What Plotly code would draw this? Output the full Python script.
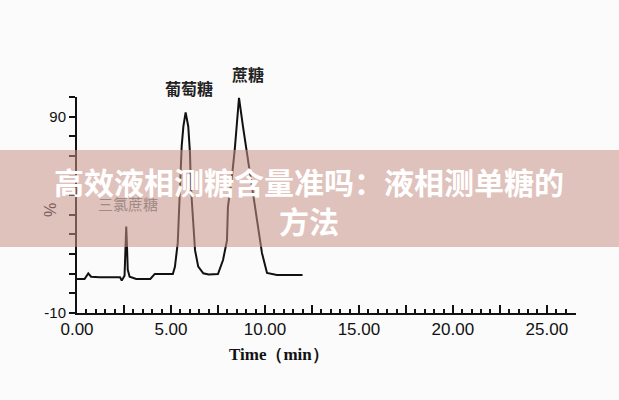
import plotly.graph_objects as go

# ---- data ----
time_min = [0, 0.4, 0.6, 0.75, 1.2, 2.29, 2.38, 2.47, 2.53, 2.57, 2.62, 2.66, 2.70, 2.80, 3.15, 3.9, 4.14,
            5.1, 5.21, 5.36, 5.44, 5.48, 5.57, 5.66, 5.78, 5.92, 6.01, 6.06, 6.19, 6.28, 6.45, 6.72,
            7.0, 7.5, 7.77, 7.98, 8.03, 8.24, 8.40, 8.62, 8.83, 9.10, 9.36, 9.63, 9.84, 10.11, 10.64, 12.0]
signal_pct = [7.3, 7.3, 10.2, 8.5, 8.2, 8.2, 6.5, 8.5, 9.0, 20.0, 34.0, 24.0, 12.0, 8.5, 7.3, 7.3, 9.9,
              9.9, 13.5, 25.7, 42.6, 59.6, 75.0, 85.0, 92.2, 85.0, 71.6, 54.4, 37.4, 22.0, 13.6, 10.2,
              9.6, 9.8, 17.0, 27.0, 44.0, 59.0, 74.0, 99.6, 85.0, 68.0, 51.0, 34.0, 20.6, 10.4, 9.4, 9.4]

peak_names = ["三氯蔗糖", "葡萄糖", "蔗糖"]

y_tickvals = [-10, 0, 10, 20, 30, 40, 50, 60, 70, 80, 90, 100]
y_ticktext = ["-10", "", "", "", "", "", "", "", "", "", "90", ""]

x_tickvals = [0, 2.5, 5, 7.5, 10, 12.5, 15, 17.5, 20, 22.5, 25]
x_ticktext = ["0.00", "", "5.00", "", "10.00", "", "15.00", "", "20.00", "", "25.00"]

banner_text = "高效液相测糖含量准吗：液相测单糖的<br>方法"

W, H = 619, 400
L, R, T, B = 77, 43, 97, 87
plot_w = W - L - R
plot_h = H - T - B


def px_to_paper_x(px):
    return (px - L) / plot_w


def px_to_paper_y(py):
    return (H - B - py) / plot_h


fig = go.Figure()
fig.add_trace(go.Scatter(x=time_min, y=signal_pct, mode="lines",
                         line=dict(color="#111111", width=2), hoverinfo="skip",
                         showlegend=False))

fig.update_layout(
    width=W, height=H,
    margin=dict(l=L, r=R, t=T, b=B),
    paper_bgcolor="#fbfbfb", plot_bgcolor="#fbfbfb",
    xaxis=dict(range=[0, 26.55], showgrid=False, zeroline=False, showline=True,
               linecolor="#111111", linewidth=2,
               tickvals=x_tickvals, ticktext=x_ticktext, ticks="inside", ticklen=8,
               tickwidth=2, tickcolor="#111111",
               minor=dict(dtick=0.5, ticks="inside", ticklen=4, tickwidth=1.5, tickcolor="#111111"),
               tickfont=dict(family="Liberation Sans Narrow, Liberation Sans, Arial", size=17, color="#111111")),
    yaxis=dict(range=[-10, 100], showgrid=False, zeroline=False, showline=True,
               linecolor="#111111", linewidth=2,
               tickvals=y_tickvals, ticktext=y_ticktext, ticks="outside", ticklen=6,
               tickwidth=1.5, tickcolor="#111111",
               tickfont=dict(family="Liberation Sans, Arial", size=15, color="#111111")),
    font=dict(family="Noto Sans CJK SC"),
)


def label(px, py, text, **font):
    fig.add_annotation(x=px_to_paper_x(px), y=px_to_paper_y(py), xref="paper", yref="paper",
                       xanchor="center", yanchor="middle", text=text, showarrow=False,
                       font=font)


label(128, 203, peak_names[0], family="Noto Sans CJK SC", size=15, color="#a08a86")
label(189, 88, peak_names[1], family="Noto Sans CJK SC", size=16, color="#222222", weight="bold")
label(248, 74, peak_names[2], family="Noto Sans CJK SC", size=16, color="#222222", weight="bold")
fig.add_annotation(x=px_to_paper_x(50), y=px_to_paper_y(210), xref="paper", yref="paper",
                   xanchor="center", yanchor="middle", text="%", showarrow=False, textangle=-90,
                   font=dict(family="Liberation Sans", size=16, color="#7a5e5a"))
label(279, 354, "Time（min）", family="Liberation Serif, Times New Roman", size=17,
      color="#111111", weight="bold")

# translucent banner
fig.add_shape(type="rect", xref="paper", yref="paper",
              x0=px_to_paper_x(0), x1=px_to_paper_x(W), y0=px_to_paper_y(247), y1=px_to_paper_y(150),
              fillcolor="rgba(200,147,136,0.55)", line=dict(width=0), layer="above")
label(309, 200, banner_text, family="Noto Sans CJK SC", size=30, color="white", weight="bold")

fig.write_html("out.html", config={"displayModeBar": False},
               post_script="document.body.style.margin='0';")
